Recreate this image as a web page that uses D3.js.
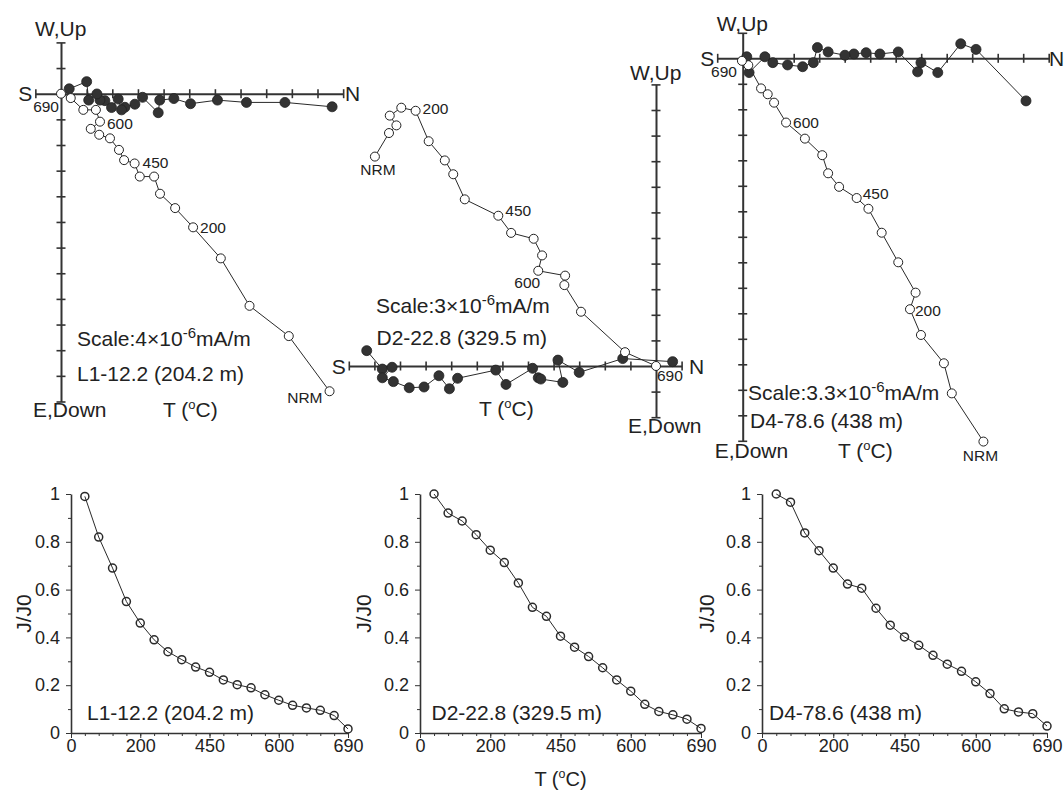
<!DOCTYPE html>
<html>
<head>
<meta charset="utf-8">
<script src="https://cdn.jsdelivr.net/npm/d3@7"></script>
<style>
  body { margin: 0; background: #fff; }
  svg { font-family: "Liberation Sans", Arial, sans-serif; fill: #222; }
  .domain { stroke: #333; }
  .tick line { stroke: #333; }
</style>
</head>
<body>
<script>
/* global d3 */
const width = 1064;
const height = 793;

// ---- demagnetization curves (J/J0), one value per heating step ----
const jL1 = [0.99, 0.82, 0.69, 0.55, 0.46, 0.39, 0.34, 0.307, 0.276, 0.254,
  0.222, 0.202, 0.189, 0.16, 0.137, 0.116, 0.105, 0.095, 0.073, 0.017];
const jD2 = [1.0, 0.92, 0.887, 0.83, 0.765, 0.713, 0.628, 0.526, 0.488, 0.405,
  0.359, 0.32, 0.273, 0.222, 0.175, 0.12, 0.09, 0.076, 0.058, 0.019];
const jD4 = [1.0, 0.966, 0.837, 0.763, 0.69, 0.623, 0.606, 0.522, 0.451, 0.402,
  0.367, 0.325, 0.288, 0.258, 0.214, 0.165, 0.101, 0.088, 0.081, 0.029];
const tempTickLabels = ['0', '200', '450', '600', '690'];
const tempTickSteps = [0, 5, 10, 15, 20];
const jTicks = [0, 0.2, 0.4, 0.6, 0.8, 1];

// ---- Zijderveld projections, NRM first, in scale units [N, W/Up] ----
const l1Hor = [[10.57,-0.51],[8.73,-0.34],[7.23,-0.34],[6.1,-0.25],[5.05,-0.39],[4.4,-0.19],[3.85,-0.25],[3.79,-0.74],[3.18,-0.14],[2.88,-0.41],
  [2.49,-0.53],[2.36,-0.63],[2.23,-0.21],[1.97,-0.54],[1.71,-0.27],[1.52,-0.25],[1.4,-0.01],[1.08,-0.25],[1.0,0.47],[0.32,0.19]];
const l1Ver = [[10.47,-11.6],[8.88,-9.45],[7.35,-8.27],[6.23,-6.42],[5.15,-5.21],[4.45,-4.46],[3.86,-3.9],[3.63,-3.23],[3.07,-3.23],[2.87,-2.72],
  [2.46,-2.59],[2.26,-2.19],[1.91,-1.74],[1.49,-1.6],[1.16,-1.37],[1.52,-1.09],[1.36,-0.63],[0.87,-0.63],[0.38,-0.17],[0,0]];
const d2Hor = [[-11.3,0.6],[-10.69,-0.12],[-10.31,-0.05],[-10.69,-0.46],[-10.26,-0.61],[-9.64,-0.85],[-9.06,-0.82],[-8.48,-0.38],[-8.07,-0.89],[-7.75,-0.48],
  [-6.26,-0.16],[-5.86,-0.72],[-4.82,-0.09],[-4.6,-0.46],[-4.5,-0.51],[-3.64,-0.64],[-3.83,0.23],[-3.0,-0.25],[-1.3,0.29],[0.65,0.17]];
const d2Ver = [[-10.98,8.18],[-10.43,9.1],[-10.14,9.4],[-10.4,9.78],[-9.95,10.09],[-9.39,9.97],[-8.88,8.78],[-8.25,8.03],[-7.92,7.49],[-7.47,6.51],
  [-6.16,5.87],[-5.66,5.2],[-4.78,4.97],[-4.45,4.32],[-4.6,3.72],[-3.55,3.53],[-3.58,3.16],[-2.93,2.12],[-1.21,0.54],[0,0]];
const d4Hor = [[11.11,-1.67],[9.15,0.35],[8.55,0.57],[7.65,-0.56],[6.99,-0.17],[6.86,-0.53],[6.1,0.25],[5.38,0.17],[4.84,0.22],[4.36,0.17],
  [4.01,0.12],[3.35,0.25],[2.93,0.42],[2.77,-0.17],[2.35,-0.33],[1.76,-0.26],[1.18,-0.17],[0.87,0.06],[0.25,-0.56],[0.16,0.06]];
const d4Ver = [[9.44,-15.03],[8.2,-13.14],[7.89,-11.96],[6.99,-10.85],[6.56,-9.84],[6.78,-9.19],[6.1,-8.0],[5.45,-6.84],[4.93,-5.9],[4.47,-5.48],
  [3.78,-5.04],[3.35,-4.51],[3.12,-3.8],[2.44,-3.15],[1.7,-2.52],[1.23,-1.74],[0.98,-1.41],[0.72,-1.18],[0.22,-0.27],[-0.03,-0.1]];

const stepNames = ['NRM', '200', '450', '600', '690'];
const samples = ['L1-12.2 (204.2 m)', 'D2-22.8 (329.5 m)', 'D4-78.6 (438 m)'];
const scaleValues = ['4', '3', '3.3'];

const svg = d3.select('body').append('svg')
  .attr('width', width)
  .attr('height', height);

function label(g, x, y, s, size, anchor) {
  return g.append('text')
    .attr('x', x).attr('y', y)
    .attr('font-size', size)
    .attr('text-anchor', anchor || 'start')
    .text(s);
}

// "T (oC)" with raised o
function tempLabel(g, x, y, size, anchor) {
  const t = g.append('text').attr('x', x).attr('y', y)
    .attr('font-size', size).attr('text-anchor', anchor || 'start');
  t.append('tspan').text('T (');
  t.append('tspan').attr('font-size', size * 0.62).attr('dy', -size * 0.38).text('o');
  t.append('tspan').attr('dy', size * 0.38).text('C)');
  return t;
}

function scaleLabel(g, x, y, v) {
  const t = g.append('text').attr('x', x).attr('y', y).attr('font-size', 21);
  t.append('tspan').text('Scale:' + v + '\u00d710');
  t.append('tspan').attr('font-size', 15).attr('dy', -8).text('-6');
  t.append('tspan').attr('dy', 8).text('mA/m');
}

// ---------- Zijderveld diagrams ----------
function zij(cfg) {
  const g = svg.append('g');
  const x = d3.scaleLinear().domain(cfg.xDom)
    .range([cfg.ox + cfg.xDom[0] * cfg.unit, cfg.ox + cfg.xDom[1] * cfg.unit]);
  const y = d3.scaleLinear().domain(cfg.yDom)
    .range([cfg.oy - cfg.yDom[0] * cfg.unit, cfg.oy - cfg.yDom[1] * cfg.unit]);

  const xAxis = d3.axisBottom(x)
    .tickValues(d3.range(cfg.xDom[0], cfg.xDom[1] + 1))
    .tickSize(9).tickSizeOuter(0).tickFormat('');
  g.append('g').attr('transform', `translate(0,${y(0)})`).call(xAxis)
    .call(a => a.select('.domain').attr('stroke-width', 2))
    .call(a => a.selectAll('.tick line').attr('y1', -4.5).attr('y2', 4.5).attr('stroke-width', 1.6));

  const yAxis = d3.axisLeft(y)
    .tickValues(d3.range(cfg.yDom[0], cfg.yDom[1] + 1))
    .tickSize(9).tickSizeOuter(0).tickFormat('');
  g.append('g').attr('transform', `translate(${x(0)},0)`).call(yAxis)
    .call(a => a.select('.domain').attr('stroke-width', 2))
    .call(a => a.selectAll('.tick line').attr('x1', -4.5).attr('x2', 4.5).attr('stroke-width', 1.6));

  const line = d3.line().x(d => x(d[0])).y(d => y(d[1]));
  g.append('path').datum(cfg.hor).attr('d', line)
    .attr('fill', 'none').attr('stroke', '#2a2a2a').attr('stroke-width', 1);
  g.append('path').datum(cfg.ver).attr('d', line)
    .attr('fill', 'none').attr('stroke', '#2a2a2a').attr('stroke-width', 1);

  g.selectAll('circle.h').data(cfg.hor).join('circle')
    .attr('class', 'h')
    .attr('cx', d => x(d[0])).attr('cy', d => y(d[1])).attr('r', 5)
    .attr('fill', '#333').attr('stroke', '#222').attr('stroke-width', 0.8);
  g.selectAll('circle.v').data(cfg.ver).join('circle')
    .attr('class', 'v')
    .attr('cx', d => x(d[0])).attr('cy', d => y(d[1])).attr('r', 4.5)
    .attr('fill', '#fff').attr('stroke', '#222').attr('stroke-width', 1);

  // heating step labels on the vertical projection
  cfg.marks.forEach((m, i) => {
    const p = cfg.ver[m.i];
    label(g, x(p[0]) + m.dx, y(p[1]) + m.dy, stepNames[i], 15.5, m.anchor);
  });

  const left = x(cfg.xDom[0]), right = x(cfg.xDom[1]);
  label(g, left - 3, cfg.oy + 7.5, 'S', 21, 'end');
  label(g, cfg.nX, cfg.oy + 7.5, 'N', 21);
  label(g, cfg.ox - 26, cfg.upY, 'W,Up', 21);
  label(g, cfg.ox - 28, cfg.downY, 'E,Down', 21);
  tempLabel(g, cfg.tPos[0], cfg.tPos[1], 21);
  scaleLabel(g, cfg.scalePos[0], cfg.scalePos[1], cfg.scale);
  label(g, cfg.namePos[0], cfg.namePos[1], cfg.name, 21);
}

zij({
  ox: 61, oy: 93.7, unit: 25.65, xDom: [-1, 11], yDom: [-12, 2],
  hor: l1Hor, ver: l1Ver,
  marks: [{i: 0, dx: -7, dy: 12, anchor: 'end'}, {i: 4, dx: 7, dy: 6}, {i: 9, dx: 8, dy: 4.5},
    {i: 15, dx: 7, dy: 7}, {i: 19, dx: -2, dy: 18, anchor: 'end'}],
  nX: 345, upY: 36, downY: 417, tPos: [163, 417],
  scalePos: [77, 346], namePos: [77, 380.5], scale: scaleValues[0], name: samples[0]
});

zij({
  ox: 656, oy: 366, unit: 25.6, xDom: [-12, 1], yDom: [-2, 11],
  hor: d2Hor, ver: d2Ver,
  marks: [{i: 0, dx: 3, dy: 18.5, anchor: 'middle'}, {i: 5, dx: 7, dy: 3}, {i: 10, dx: 7, dy: 0},
    {i: 14, dx: 2, dy: 17, anchor: 'end'}, {i: 19, dx: 1, dy: 15}],
  nX: 689, upY: 80, downY: 433, tPos: [479, 416],
  scalePos: [376, 313], namePos: [376.5, 345], scale: scaleValues[1], name: samples[1]
});

zij({
  ox: 742.7, oy: 58.3, unit: 25.5, xDom: [-1, 12], yDom: [-15, 1],
  hor: d4Hor, ver: d4Ver,
  marks: [{i: 0, dx: -3, dy: 19, anchor: 'middle'}, {i: 4, dx: 5, dy: 7}, {i: 9, dx: 6, dy: 1},
    {i: 14, dx: 7, dy: 5.5}, {i: 19, dx: -5, dy: 16.6, anchor: 'end'}],
  nX: 1049, upY: 30.5, downY: 458, tPos: [838, 458],
  scalePos: [748, 400], namePos: [750, 428], scale: scaleValues[2], name: samples[2]
});

// ---------- J/J0 demagnetization curves ----------
function demag(cfg) {
  const g = svg.append('g');
  const x = d3.scaleLinear().domain([0, 20]).range([cfg.x0, cfg.x1]);
  const y = d3.scaleLinear().domain([0, 1]).range([733, 494]);

  g.append('g').attr('transform', 'translate(0,733)')
    .call(d3.axisBottom(x).tickValues(d3.range(0, 21)).tickSize(3).tickSizeOuter(0).tickFormat(''))
    .call(a => a.select('.domain').attr('stroke-width', 1.6));
  g.append('g').attr('transform', 'translate(0,733)')
    .call(d3.axisBottom(x).tickValues(tempTickSteps).tickSize(5).tickPadding(1).tickSizeOuter(0)
      .tickFormat((d, i) => tempTickLabels[i]))
    .call(a => a.select('.domain').remove())
    .call(a => a.selectAll('text').attr('font-size', 18).attr('fill', '#222').attr('font-family', null));

  g.append('g').attr('transform', `translate(${cfg.x0},0)`)
    .call(d3.axisLeft(y).tickValues(d3.range(0.1, 1, 0.2)).tickSize(3).tickSizeOuter(0).tickFormat(''))
    .call(a => a.select('.domain').attr('stroke-width', 1.6));
  g.append('g').attr('transform', `translate(${cfg.x0},0)`)
    .call(d3.axisLeft(y).tickValues(jTicks).tickSize(5).tickPadding(6).tickSizeOuter(0)
      .tickFormat(d => String(d)))
    .call(a => a.select('.domain').remove())
    .call(a => a.selectAll('text').attr('font-size', 18).attr('fill', '#222').attr('font-family', null));

  g.append('text')
    .attr('transform', `translate(${cfg.yLabX},${y(0.5)}) rotate(-90)`)
    .attr('text-anchor', 'middle').attr('dy', '0.35em')
    .attr('font-size', 21).text('J/J0');

  const pts = cfg.data.map((v, i) => [i + 1, v]);
  g.append('path').datum(pts)
    .attr('d', d3.line().x(d => x(d[0])).y(d => y(d[1])))
    .attr('fill', 'none').attr('stroke', '#2a2a2a').attr('stroke-width', 1);
  g.selectAll('circle').data(pts).join('circle')
    .attr('cx', d => x(d[0])).attr('cy', d => y(d[1])).attr('r', 4)
    .attr('fill', 'none').attr('stroke', '#2a2a2a').attr('stroke-width', 1.5);

  label(g, cfg.nameX, 719.5, cfg.name, 21);
}

demag({x0: 71, x1: 348, data: jL1, name: samples[0], nameX: 87, yLabX: 24});
demag({x0: 420, x1: 701, data: jD2, name: samples[1], nameX: 431.5, yLabX: 364});
demag({x0: 762, x1: 1047, data: jD4, name: samples[2], nameX: 769, yLabX: 707});

tempLabel(svg, 560.5, 786, 20, 'middle');
</script>
</body>
</html>
